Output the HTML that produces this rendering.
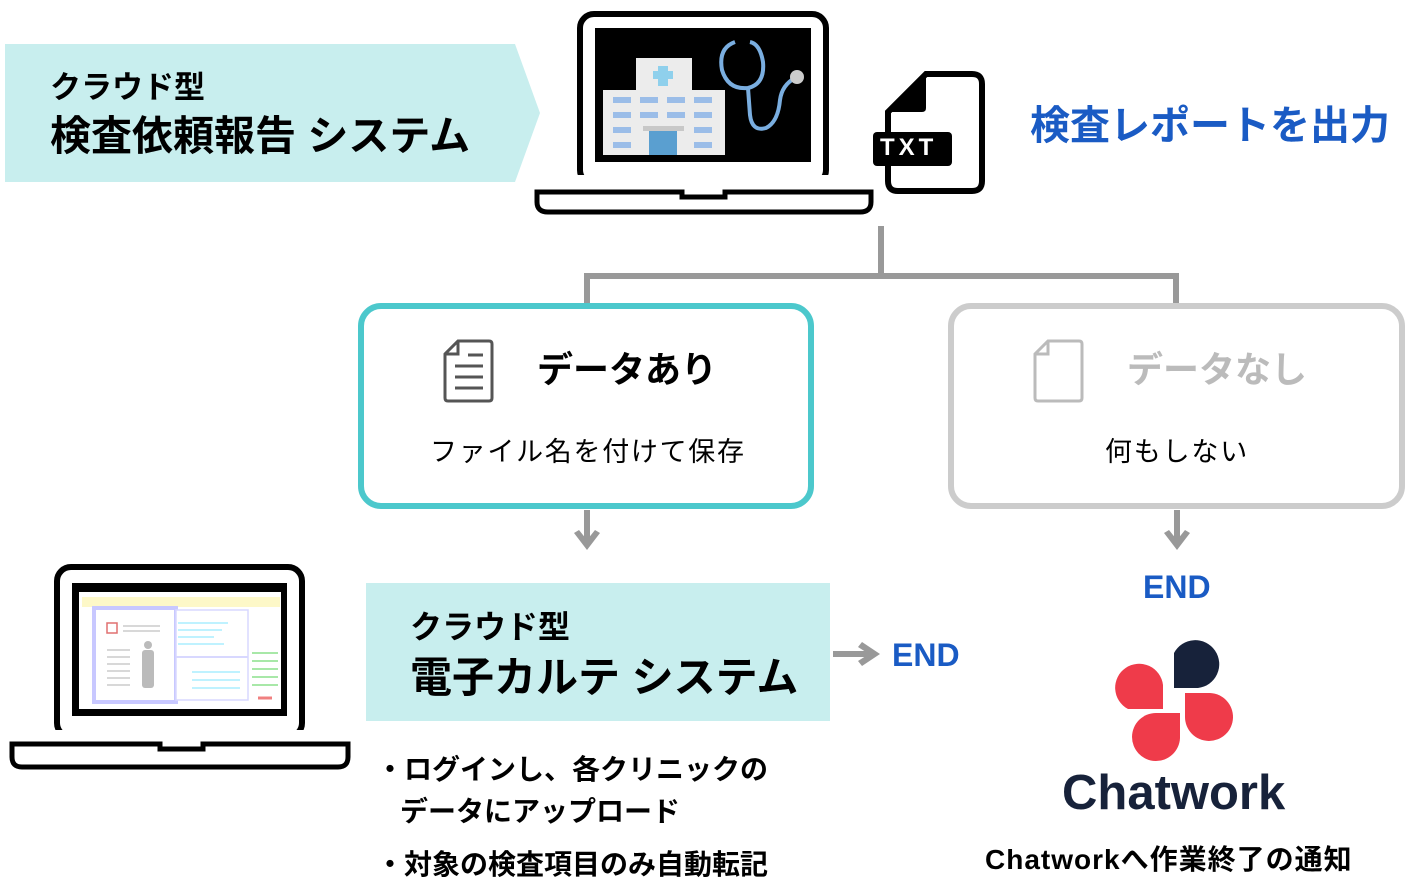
<!DOCTYPE html>
<html><head><meta charset="utf-8"><style>
body{margin:0;width:1407px;height:886px;background:#fff;position:relative;overflow:hidden;font-family:"Liberation Sans","Noto Sans CJK JP",sans-serif;}
.t{position:absolute;white-space:nowrap;line-height:1;}
</style></head><body>
<svg width="1407" height="886" style="position:absolute;left:0;top:0">
<polygon points="5,44 515,44 540,113 515,182 5,182" fill="#c8eeee"/>
<rect x="580" y="14" width="246" height="170" rx="14" fill="none" stroke="#000" stroke-width="6"/>
<rect x="574" y="175" width="258" height="14" fill="#fff"/>
<rect x="595" y="28" width="216" height="134" fill="#000"/>
<path d="M537,192 H682 V197 H725 V192 H871 V202 Q871,212 860,212 H548 Q537,212 537,202 Z" fill="none" stroke="#000" stroke-width="5"/>
<rect x="636" y="58" width="56" height="36" fill="#ececec"/>
<rect x="603" y="90" width="122" height="65" fill="#ececec"/>
<rect x="658" y="66" width="10" height="20" fill="#8fd0ec"/><rect x="653" y="71" width="20" height="8" fill="#8fd0ec"/>
<g fill="#9bbde8">
<rect x="613" y="97" width="18" height="6"/><rect x="640" y="97" width="18" height="6"/><rect x="667" y="97" width="18" height="6"/><rect x="694" y="97" width="18" height="6"/>
<rect x="613" y="112" width="18" height="6"/><rect x="640" y="112" width="18" height="6"/><rect x="667" y="112" width="18" height="6"/><rect x="694" y="112" width="18" height="6"/>
<rect x="613" y="127" width="18" height="6"/><rect x="694" y="127" width="18" height="6"/>
<rect x="613" y="142" width="18" height="6"/><rect x="694" y="142" width="18" height="6"/>
</g>
<rect x="643" y="126" width="41" height="5" fill="#c8c8c8"/>
<rect x="649" y="131" width="28" height="24" fill="#5a9fd0"/>
<path d="M735,42 Q718,48 722,70 Q728,90 748,88 Q765,84 763,62 Q760,44 750,42" fill="none" stroke="#7aaee0" stroke-width="4"/>
<path d="M748,88 L750,115 Q752,132 766,128 Q778,122 780,100 Q782,85 795,78" fill="none" stroke="#7aaee0" stroke-width="4"/>
<circle cx="797" cy="77" r="7" fill="#ccc"/>
<path d="M926,74 H972 Q982,74 982,84 V181 Q982,191 972,191 H898 Q888,191 888,181 V112 Z" fill="#fff" stroke="#000" stroke-width="6"/>
<path d="M926,74 V108 Q926,112 922,112 H888 Z" fill="#000"/>
<rect x="873" y="132" width="79" height="34" rx="4" fill="#000"/>
<g stroke="#999" stroke-width="6" fill="none">
<path d="M881,226 V276"/>
<path d="M587,305 V276 H1176 V305"/>
<path d="M587,510 V545"/><path d="M1177,510 V545"/>
<path d="M833,654 H872"/>
</g>
<g fill="#999">
<polygon points="574,533 587,550 600,533 595,530 587,540 579,530"/>
<polygon points="1164,533 1177,550 1190,533 1185,530 1177,540 1169,530"/>
<polygon points="862,642 880,654 862,666 858,661 869,654 858,647"/>
</g>
<rect x="361" y="306" width="450" height="200" rx="20" fill="#fff" stroke="#4cc8cc" stroke-width="6"/>
<rect x="951" y="306" width="451" height="200" rx="20" fill="#fff" stroke="#ccc" stroke-width="6"/>
<path d="M458,341 H489 Q492,341 492,344 V398 Q492,401 489,401 H448 Q445,401 445,398 V354 Z" fill="none" stroke="#555" stroke-width="3"/>
<path d="M458,341 V354 H445" fill="none" stroke="#555" stroke-width="3"/>
<g stroke="#555" stroke-width="3"><path d="M468,355 H483"/><path d="M455,366 H483"/><path d="M455,377 H483"/><path d="M455,388 H483"/></g>
<path d="M1048,341 H1079 Q1082,341 1082,344 V398 Q1082,401 1079,401 H1038 Q1035,401 1035,398 V354 Z" fill="none" stroke="#bbb" stroke-width="3"/>
<path d="M1048,341 V354 H1035" fill="none" stroke="#bbb" stroke-width="3"/>
<rect x="366" y="583" width="464" height="138" fill="#c8eeee"/>
<rect x="57" y="567" width="245" height="170" rx="14" fill="none" stroke="#000" stroke-width="6"/>
<rect x="50" y="730" width="260" height="12" fill="#fff"/>
<rect x="72" y="583" width="215" height="133" fill="#000"/>
<rect x="79" y="592" width="202" height="117" fill="#fff"/>
<rect x="82" y="597" width="198" height="10" fill="#fdf8c8"/>
<rect x="94" y="608" width="82" height="94" fill="#fff" stroke="#c8c8ff" stroke-width="4"/>
<rect x="176" y="610" width="72" height="90" fill="#fff" stroke="#d8d8ff" stroke-width="1.5"/>
<line x1="176" y1="657" x2="248" y2="657" stroke="#d8d8ff" stroke-width="2"/>
<rect x="107" y="623" width="10" height="10" fill="#fff" stroke="#e07070" stroke-width="1.5"/>
<g stroke="#ccc" stroke-width="1.5"><path d="M123,626 H160"/><path d="M123,631 H160"/><path d="M107,650 H130"/><path d="M107,657 H130"/><path d="M107,664 H130"/><path d="M107,671 H130"/><path d="M107,678 H130"/><path d="M107,685 H130"/></g>
<circle cx="148" cy="645" r="4" fill="#bbb"/><rect x="142" y="650" width="12" height="38" rx="3" fill="#bbb"/>
<g stroke="#aef" stroke-width="1.5"><path d="M178,623 H228"/><path d="M178,630 H222"/><path d="M178,637 H214"/><path d="M178,644 H224"/><path d="M192,672 H240"/><path d="M192,680 H240"/><path d="M192,688 H240"/></g>
<g stroke="#a8e8a8" stroke-width="2"><path d="M252,653 H278"/><path d="M252,661 H278"/><path d="M252,669 H278"/><path d="M252,677 H278"/><path d="M252,685 H278"/></g>
<path d="M258,698 H272" stroke="#f08080" stroke-width="3"/>
<path d="M12,744 H160 V749 H203 V744 H348 V757 Q348,767 338,767 H22 Q12,767 12,757 Z" fill="none" stroke="#000" stroke-width="5"/>
<path d="M1174,688 V653 A24,24 0 1 1 1198,688 Z" fill="#17223a"/>
<path d="M1163,709 H1128 A24,24 0 1 1 1163,685 Z" fill="#ef3b4a"/>
<path d="M1185,693 H1210 A24,24 0 1 1 1185,717 Z" fill="#ef3b4a"/>
<path d="M1180,713 V738 A24,24 0 1 1 1156,713 Z" fill="#ef3b4a"/>
</svg>
<div class="t" style="left:50px;top:72px;font-size:31px;font-weight:bold;">クラウド型</div>
<div class="t" style="left:50px;top:116px;font-size:41px;font-weight:bold;">検査依頼報告 システム</div>
<div class="t" style="left:880px;top:136px;font-size:24px;font-weight:bold;color:#fff;letter-spacing:4px;">TXT</div>
<div class="t" style="left:1030px;top:106px;font-size:40px;font-weight:bold;color:#1a5bc4;">検査レポートを出力</div>
<div class="t" style="left:537px;top:352px;font-size:36px;font-weight:bold;">データあり</div>
<div class="t" style="left:430px;top:439px;font-size:27px;letter-spacing:1.7px;">ファイル名を付けて保存</div>
<div class="t" style="left:1127px;top:352px;font-size:36px;font-weight:bold;color:#bbb;">データなし</div>
<div class="t" style="left:1105px;top:439px;font-size:27px;letter-spacing:1.8px;">何もしない</div>
<div class="t" style="left:1143px;top:571px;font-size:32px;font-weight:bold;color:#1a5bc4;">END</div>
<div class="t" style="left:892px;top:639px;font-size:32px;font-weight:bold;color:#1a5bc4;">END</div>
<div class="t" style="left:410px;top:611px;font-size:32px;font-weight:bold;">クラウド型</div>
<div class="t" style="left:410px;top:657px;font-size:42px;font-weight:bold;">電子カルテ システム</div>
<div class="t" style="left:376px;top:756px;font-size:28px;font-weight:bold;">・ログインし、各クリニックの</div>
<div class="t" style="left:400px;top:798px;font-size:28px;font-weight:bold;">データにアップロード</div>
<div class="t" style="left:376px;top:851px;font-size:28px;font-weight:bold;">・対象の検査項目のみ自動転記</div>
<div class="t" style="left:1062px;top:769px;font-size:49px;font-weight:bold;color:#17223a;">Chatwork</div>
<div class="t" style="left:985px;top:846px;font-size:28px;font-weight:bold;letter-spacing:1px;">Chatworkへ作業終了の通知</div>
</body></html>
